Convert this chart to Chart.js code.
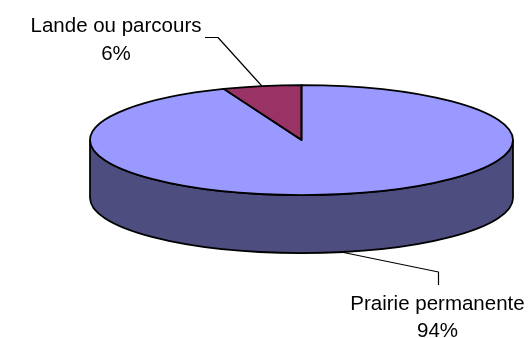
<!DOCTYPE html>
<html>
<head>
<meta charset="utf-8">
<style>
  html, body { margin: 0; padding: 0; background: #fff; }
  canvas { display: block; }
</style>
</head>
<body>
<canvas id="pieChart" width="528" height="338"></canvas>
<script src="https://cdn.jsdelivr.net/npm/chart.js@4"></script>
<script>
const categories = ["Prairie permanente", "Lande ou parcours"];
const values = [94, 6];
const topColors = ["#9999ff", "#993366"];
const sideColors = ["#4d4d80", "#4d1a33"];

// fake 3d: the library draws the pie, we squash it and add the side wall
const squash = 55 / 211.5;
const depth = 58;

function ellipsePoint(arc, angle, extraY) {
    return {
        x: arc.x + Math.cos(angle) * arc.outerRadius,
        y: arc.y + Math.sin(angle) * arc.outerRadius * squash + extraY
    };
}

function drawWall(ctx, arc, color) {
    const start = Math.max(arc.startAngle, 0);
    const end = Math.min(arc.endAngle, Math.PI);
    if (start >= end) return;
    const ry = arc.outerRadius * squash;
    ctx.beginPath();
    ctx.ellipse(arc.x, arc.y, arc.outerRadius, ry, 0, start, end);
    ctx.ellipse(arc.x, arc.y + depth, arc.outerRadius, ry, 0, end, start, true);
    ctx.closePath();
    ctx.fillStyle = color;
    ctx.fill();
    ctx.stroke();
}

function drawLabel(ctx, i, centerX, firstLine, lineGap) {
    ctx.fillText(categories[i], centerX, firstLine);
    ctx.fillText(values[i] + "%", centerX, firstLine + lineGap);
}

const pie3d = {
    id: "pie3d",
    beforeDatasetsDraw(chart) {
        const ctx = chart.ctx;
        const arcs = chart.getDatasetMeta(0).data;
        ctx.save();
        ctx.strokeStyle = "#000";
        ctx.lineWidth = 1.75;
        ctx.lineJoin = "round";
        arcs.forEach((arc, i) => drawWall(ctx, arc, sideColors[i]));
        ctx.restore();

        const cy = arcs[0].y;
        ctx.save();
        ctx.translate(0, cy);
        ctx.scale(1, squash);
        ctx.translate(0, -cy);
    },
    afterDatasetsDraw(chart) {
        const ctx = chart.ctx;
        ctx.restore();

        const arcs = chart.getDatasetMeta(0).data;
        ctx.save();
        ctx.strokeStyle = "#000";
        ctx.lineWidth = 1.75;
        ctx.lineJoin = "round";
        arcs.forEach(arc => {
            ctx.beginPath();
            ctx.moveTo(arc.x, arc.y);
            ctx.ellipse(arc.x, arc.y, arc.outerRadius, arc.outerRadius * squash, 0, arc.startAngle, arc.endAngle);
            ctx.closePath();
            ctx.stroke();
        });

        // leader lines start from the middle of each slice
        ctx.lineWidth = 1.2;
        const prairie = ellipsePoint(arcs[0], (arcs[0].startAngle + arcs[0].endAngle) / 2, depth);
        ctx.beginPath();
        ctx.moveTo(prairie.x, prairie.y);
        ctx.lineTo(438.5, 272);
        ctx.lineTo(438.5, 285);
        ctx.stroke();

        const lande = ellipsePoint(arcs[1], (arcs[1].startAngle + arcs[1].endAngle) / 2, 0);
        ctx.beginPath();
        ctx.moveTo(lande.x, lande.y);
        ctx.lineTo(218, 37.5);
        ctx.lineTo(205, 37.5);
        ctx.stroke();

        ctx.fillStyle = "#000";
        ctx.font = "20.5px 'Liberation Sans', Arial, sans-serif";
        ctx.textAlign = "center";
        ctx.textBaseline = "alphabetic";
        drawLabel(ctx, 0, 437.5, 310, 27);
        drawLabel(ctx, 1, 116, 32, 28);
        ctx.restore();
    }
};

const myChart = new Chart(document.getElementById("pieChart").getContext("2d"), {
    type: "pie",
    data: {
        labels: categories,
        datasets: [{
            data: values,
            backgroundColor: topColors,
            borderWidth: 0,
            radius: 211.5,
            clip: false
        }]
    },
    options: {
        responsive: false,
        animation: false,
        layout: { padding: { left: 75, bottom: 58 } },
        plugins: {
            legend: { display: false },
            tooltip: { enabled: false },
            title: { display: false }
        }
    },
    plugins: [pie3d]
});
</script>
</body>
</html>
